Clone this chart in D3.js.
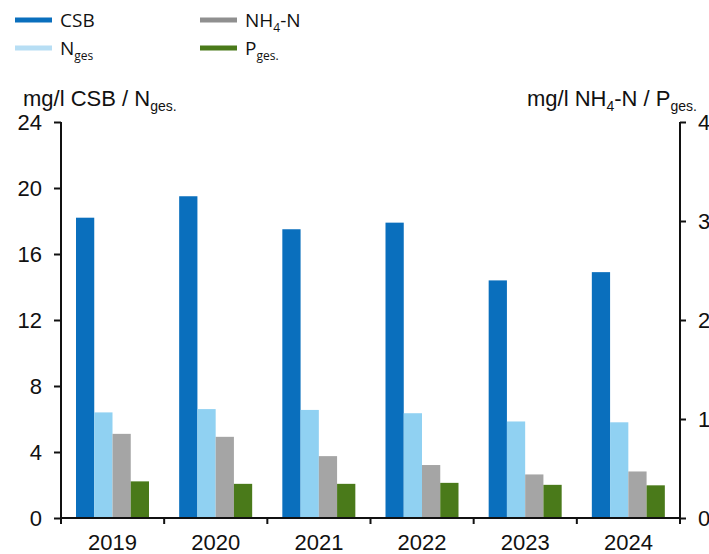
<!DOCTYPE html>
<html>
<head>
<meta charset="utf-8">
<script src="https://cdn.jsdelivr.net/npm/d3@7"></script>
<style>
  body { margin: 0; background: #fff; }
  svg { font-family: "Liberation Sans", Arial, sans-serif; }
</style>
</head>
<body>
<svg id="chart" width="709" height="554"></svg>
<script>
// data
var years = ["2019", "2020", "2021", "2022", "2023", "2024"];
var csb = [18.2, 19.5, 17.5, 17.9, 14.4, 14.9];        // left axis
var nges = [6.4, 6.6, 6.55, 6.35, 5.85, 5.8];          // left axis
var nh4 = [0.85, 0.82, 0.625, 0.535, 0.44, 0.47];      // right axis
var pges = [0.37, 0.345, 0.345, 0.355, 0.335, 0.33];   // right axis
var leftTicks = [0, 4, 8, 12, 16, 20, 24];
var rightTicks = [0, 1, 2, 3, 4];

var series = [
  { key: "CSB", values: csb, axis: "left", color: "#0a6fbd" },
  { key: "Nges", values: nges, axis: "left", color: "#90d1f2" },
  { key: "NH4", values: nh4, axis: "right", color: "#a5a5a5" },
  { key: "Pges", values: pges, axis: "right", color: "#4a7a1a" }
];

var svg = d3.select("#chart");
var plotLeft = 61, plotRight = 680, plotTop = 122, plotBottom = 518;

var x = d3.scaleBand().domain(years).range([plotLeft, plotRight]);
var xInner = d3.scaleBand().domain(series.map(function(s) { return s.key; }))
    .range([15, 88]);
var yL = d3.scaleLinear().domain([0, 24]).range([plotBottom, plotTop]);
var yR = d3.scaleLinear().domain([0, 4]).range([plotBottom, plotTop]);

// bars
series.forEach(function(s) {
  var yS = s.axis === "left" ? yL : yR;
  svg.append("g").selectAll("rect")
    .data(s.values)
    .enter().append("rect")
      .attr("x", function(d, i) { return x(years[i]) + xInner(s.key); })
      .attr("width", xInner.bandwidth())
      .attr("y", function(d) { return yS(d); })
      .attr("height", function(d) { return plotBottom - yS(d); })
      .attr("fill", s.color);
});

// axes
var axL = svg.append("g").attr("transform", "translate(" + plotLeft + ",0)")
    .call(d3.axisLeft(yL).tickValues(leftTicks).tickSize(7).tickPadding(12));
var axR = svg.append("g").attr("transform", "translate(" + plotRight + ",0)")
    .call(d3.axisRight(yR).tickValues(rightTicks).tickFormat(d3.format("d"))
      .tickSize(6).tickPadding(12));
var axX = svg.append("g").attr("transform", "translate(0," + plotBottom + ")")
    .call(d3.axisBottom(x).tickSize(0).tickPadding(16));

// boundary ticks between groups on the x axis
svg.append("g").selectAll("line")
  .data(years.concat(["end"]))
  .enter().append("line")
    .attr("x1", function(d, i) { return plotLeft + i * x.step(); })
    .attr("x2", function(d, i) { return plotLeft + i * x.step(); })
    .attr("y1", plotBottom)
    .attr("y2", plotBottom + 6)
    .attr("stroke", "#111")
    .attr("stroke-width", 2);

[axL, axR, axX].forEach(function(a) {
  a.selectAll(".domain").attr("stroke", "#111").attr("stroke-width", 2);
  a.selectAll(".tick line").attr("stroke", "#111").attr("stroke-width", 2);
  a.selectAll("text").attr("font-size", 22).attr("fill", "#111")
    .attr("font-family", "Liberation Sans, Arial, sans-serif");
});
axX.select(".domain").attr("d", "M" + plotLeft + ",0H" + plotRight);
axL.select(".domain").attr("d", "M0," + plotBottom + "V" + plotTop);
axR.select(".domain").attr("d", "M0," + plotBottom + "V" + plotTop);

// axis titles
var tl = svg.append("text").attr("x", 23).attr("y", 106)
    .attr("font-size", 22).attr("fill", "#111");
tl.append("tspan").text("mg/l CSB / N");
tl.append("tspan").attr("font-size", 14).attr("dy", 5).text("ges.");

var tr = svg.append("text").attr("x", 697).attr("y", 106)
    .attr("text-anchor", "end").attr("font-size", 22).attr("fill", "#111");
tr.append("tspan").text("mg/l NH");
tr.append("tspan").attr("font-size", 14).attr("dy", 5).text("4");
tr.append("tspan").attr("dy", -5).text("-N / P");
tr.append("tspan").attr("font-size", 14).attr("dy", 5).text("ges.");

// legend
var legend = [
  { x: 15, y: 20, color: "#0a6fbd", main: "CSB", sub: null, tail: null },
  { x: 15, y: 48, color: "#b7def4", main: "N", sub: "ges", tail: null },
  { x: 200, y: 20, color: "#8f8f8f", main: "NH", sub: "4", tail: "-N" },
  { x: 200, y: 48, color: "#4a7a1a", main: "P", sub: "ges.", tail: null }
];
var lg = svg.append("g").selectAll("g").data(legend).enter().append("g");
lg.append("line")
  .attr("x1", function(d) { return d.x; })
  .attr("x2", function(d) { return d.x + 37; })
  .attr("y1", function(d) { return d.y; })
  .attr("y2", function(d) { return d.y; })
  .attr("stroke", function(d) { return d.color; })
  .attr("stroke-width", 5);
lg.each(function(d) {
  var t = d3.select(this).append("text")
    .attr("x", d.x + 45).attr("y", d.y + 7)
    .attr("font-family", "Open Sans, sans-serif")
    .attr("font-size", 19).attr("fill", "#111");
  t.append("tspan").text(d.main);
  if (d.sub) t.append("tspan").attr("font-size", 12).attr("dy", 5).text(d.sub);
  if (d.tail) t.append("tspan").attr("dy", -5).text(d.tail);
});
</script>
</body>
</html>
